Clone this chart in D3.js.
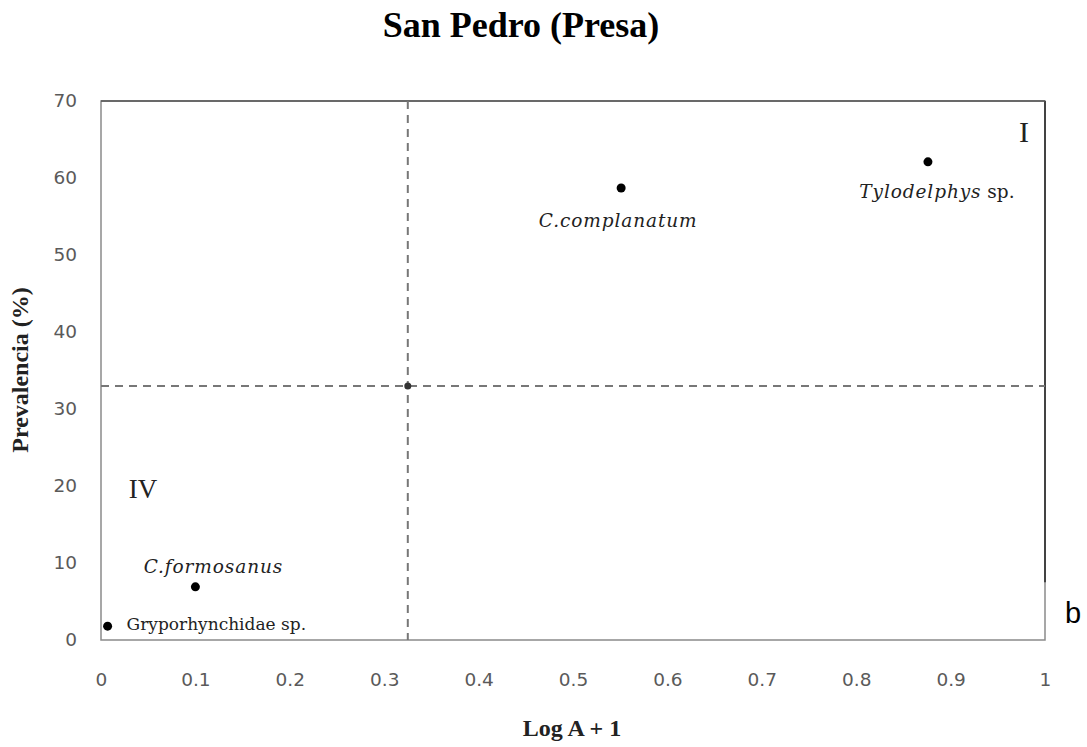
<!DOCTYPE html>
<html>
<head>
<meta charset="utf-8">
<script src="https://cdn.jsdelivr.net/npm/d3@7"></script>
<style>
  body { margin: 0; background: #fff; }
  svg { display: block; }
</style>
</head>
<body>
<svg width="1087" height="747"></svg>
<script>
// species points (Log A + 1, prevalencia %)
const species = ["Gryporhynchidae sp.", "C.formosanus", "C.complanatum", "Tylodelphys sp."];
const logA = [0.007, 0.1, 0.551, 0.876];
const prev = [1.8, 6.9, 58.7, 62.1];
const centroid = [0.325, 33];
const xTicks = [0, 0.1, 0.2, 0.3, 0.4, 0.5, 0.6, 0.7, 0.8, 0.9, 1];
const yTicks = [0, 10, 20, 30, 40, 50, 60, 70];

const margin = { top: 101, right: 42, bottom: 107, left: 101 };
const W = 1087, H = 747;
const width = W - margin.left - margin.right;
const height = H - margin.top - margin.bottom;

const svg = d3.select('svg');
const g = svg.append('g').attr('transform', `translate(${margin.left},${margin.top})`);

const x = d3.scaleLinear().domain([0, 1]).range([0, width]);
const y = d3.scaleLinear().domain([0, 70]).range([height, 0]);

// frame
g.append('rect')
  .attr('width', width).attr('height', height)
  .attr('fill', 'none').attr('stroke', '#8a8a8a').attr('stroke-width', 1.5);
g.append('line')
  .attr('x1', width).attr('x2', width)
  .attr('y1', 0).attr('y2', y(7.5))
  .attr('stroke', '#222').attr('stroke-width', 1.5);
g.append('line')
  .attr('x1', 0).attr('x2', width)
  .attr('y1', 0).attr('y2', 0)
  .attr('stroke', '#555').attr('stroke-width', 1.5);

// axes (labels only, no tick marks)
const xAxis = g.append('g').attr('transform', `translate(0,${height})`)
  .call(d3.axisBottom(x).tickValues(xTicks).tickSize(0).tickPadding(33)
    .tickFormat(d => d === 0 ? '0' : d === 1 ? '1' : d3.format('.1f')(d)));
const yAxis = g.append('g')
  .call(d3.axisLeft(y).tickValues(yTicks).tickSize(0).tickPadding(24));
[xAxis, yAxis].forEach(a => {
  a.select('.domain').remove();
  a.selectAll('text')
    .attr('font-family', 'DejaVu Sans, sans-serif')
    .attr('font-size', 18.5)
    .attr('fill', '#5a5a5a');
});

// dashed reference lines through the centroid
g.append('line')
  .attr('x1', x(centroid[0])).attr('x2', x(centroid[0]))
  .attr('y1', 0).attr('y2', height)
  .attr('stroke', '#777').attr('stroke-width', 2).attr('stroke-dasharray', '8,6');
g.append('line')
  .attr('x1', 0).attr('x2', width)
  .attr('y1', y(centroid[1])).attr('y2', y(centroid[1]))
  .attr('stroke', '#777').attr('stroke-width', 2).attr('stroke-dasharray', '8,6');
g.append('circle')
  .attr('cx', x(centroid[0])).attr('cy', y(centroid[1])).attr('r', 3.5).attr('fill', '#333');

// points
g.selectAll('circle.pt')
  .data(species)
  .enter()
  .append('circle')
  .attr('class', 'pt')
  .attr('cx', (d, i) => x(logA[i]))
  .attr('cy', (d, i) => y(prev[i]))
  .attr('r', 4.5)
  .attr('fill', '#000');

// point labels
const lab = [
  { dx: 19, dy: 4, anchor: 'start', italic: false },
  { dx: 18, dy: -14, anchor: 'middle', italic: true },
  { dx: -3, dy: 39, anchor: 'middle', italic: true },
  { dx: 9, dy: 36, anchor: 'middle', italic: true }
];
species.forEach((s, i) => {
  const t = g.append('text')
    .attr('x', x(logA[i]) + lab[i].dx)
    .attr('y', y(prev[i]) + lab[i].dy)
    .attr('text-anchor', lab[i].anchor)
    .attr('font-family', 'DejaVu Serif, serif')
    .attr('font-size', lab[i].italic ? 18.5 : 17)
    .attr('letter-spacing', lab[i].italic ? 0.9 : 0)
    .attr('fill', '#222')
    .attr('font-style', lab[i].italic ? 'italic' : 'normal');
  if (s === 'Tylodelphys sp.') {
    t.append('tspan').text('Tylodelphys');
    t.append('tspan').attr('font-style', 'normal').attr('letter-spacing', 0).text(' sp.');
  } else {
    t.text(s);
  }
});

// quadrant numerals
g.append('text').attr('x', width - 21).attr('y', 41)
  .attr('text-anchor', 'middle')
  .attr('font-family', 'Liberation Serif, serif').attr('font-size', 30).attr('fill', '#222')
  .text('I');
g.append('text').attr('x', 42).attr('y', 397)
  .attr('text-anchor', 'middle')
  .attr('font-family', 'Liberation Serif, serif').attr('font-size', 27).attr('fill', '#222')
  .text('IV');

// titles
svg.append('text').attr('x', 521).attr('y', 37)
  .attr('text-anchor', 'middle')
  .attr('font-family', 'Liberation Serif, serif').attr('font-weight', 'bold')
  .attr('font-size', 36).attr('fill', '#000')
  .text('San Pedro (Presa)');
svg.append('text').attr('x', 572).attr('y', 736)
  .attr('text-anchor', 'middle')
  .attr('font-family', 'Liberation Serif, serif').attr('font-weight', 'bold')
  .attr('font-size', 24).attr('fill', '#222')
  .text('Log A + 1');
svg.append('text')
  .attr('transform', 'translate(28,370) rotate(-90)')
  .attr('text-anchor', 'middle')
  .attr('font-family', 'Liberation Serif, serif').attr('font-weight', 'bold')
  .attr('font-size', 24).attr('fill', '#222')
  .text('Prevalencia (%)');

// panel letter
svg.append('text').attr('x', 1073).attr('y', 623)
  .attr('text-anchor', 'middle')
  .attr('font-family', 'Liberation Sans, Arial, sans-serif')
  .attr('font-size', 29).attr('fill', '#000')
  .text('b');
</script>
</body>
</html>
